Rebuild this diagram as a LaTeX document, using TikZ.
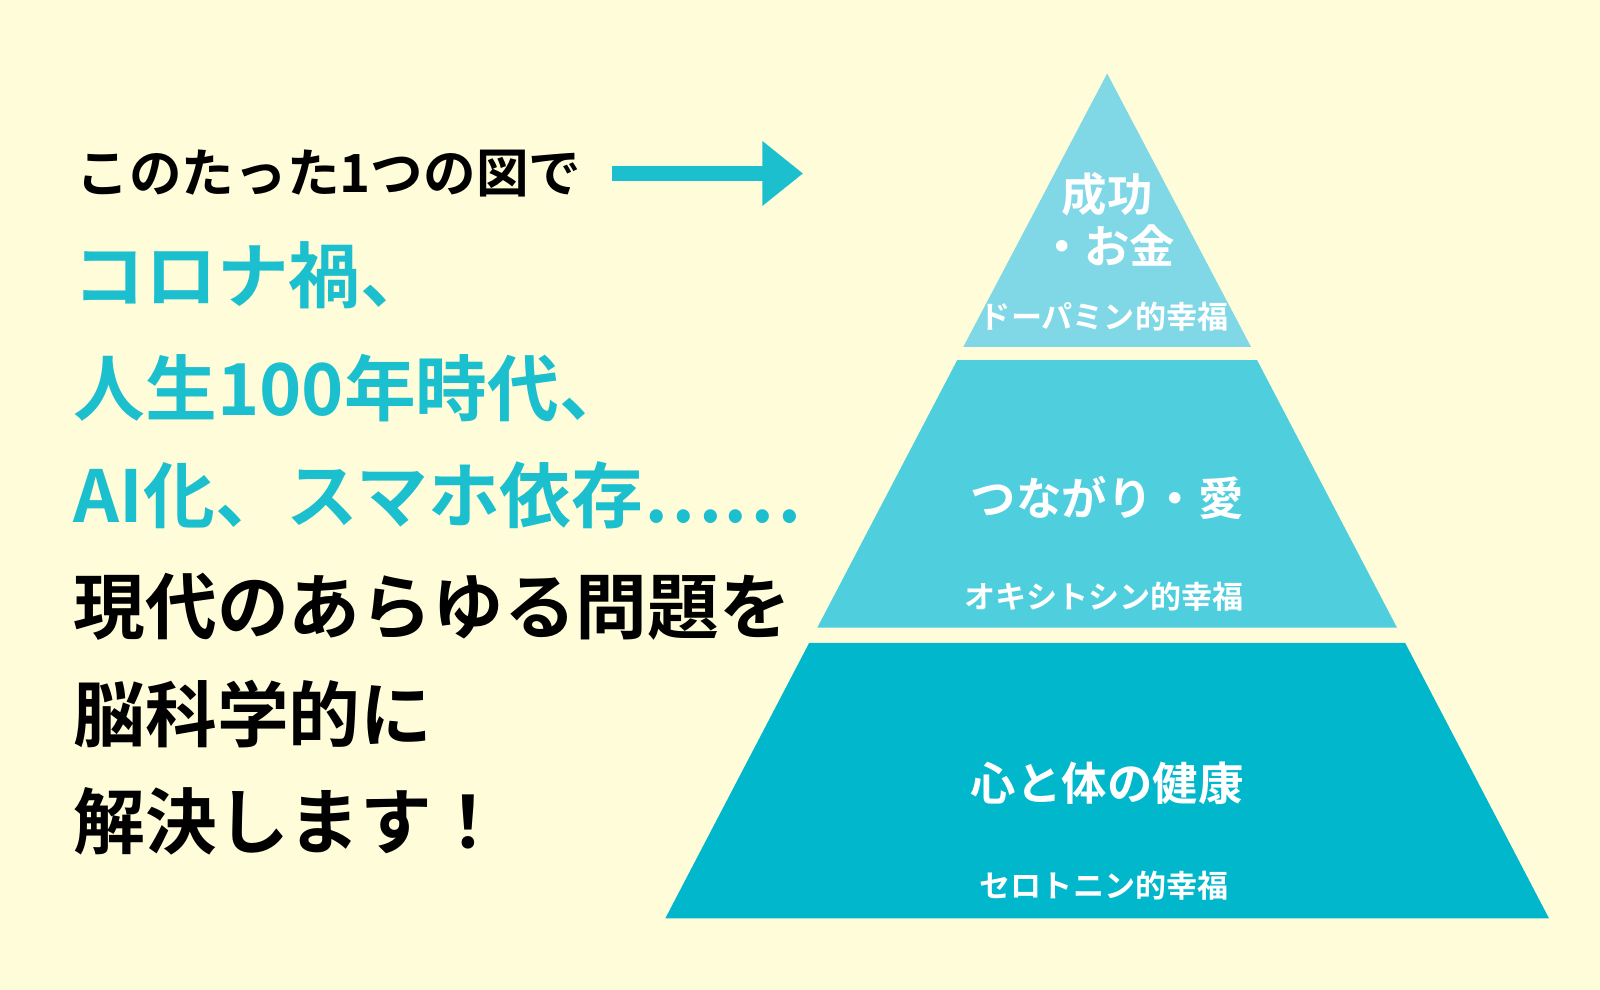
\documentclass[tikz,border=0pt]{standalone}
\usepackage{fontspec}
\setmainfont{Noto Sans CJK JP}[BoldFont={Noto Sans CJK JP Bold}]
\usetikzlibrary{arrows.meta}
\definecolor{bg}{HTML}{FFFDD9}
\definecolor{cy}{HTML}{1CBFCE}
\definecolor{t1}{HTML}{80D8E6}
\definecolor{t2}{HTML}{4FCEDE}
\definecolor{t3}{HTML}{00B7CB}
\newcommand{\fs}[1]{\fontsize{#1}{1.15\dimexpr#1\relax}\selectfont}
\begin{document}
\begin{tikzpicture}[x=0.03cm,y=-0.03cm,
  lt/.style={anchor=west,inner sep=0pt,font=\bfseries\fs{60pt}},
  pt/.style={text=white,font=\bfseries\fs{38pt},align=center,inner sep=0pt},
  st/.style={text=white,font=\bfseries\fs{26pt},inner sep=0pt}]
\fill[bg] (0,0) rectangle (1568,970);
\useasboundingbox (0,0) rectangle (1568,970);
% pyramid
\fill[t1] (1085,72) -- (1226,340) -- (944,340) -- cycle;
\fill[t2] (938,353) -- (1232,353) -- (1369,615) -- (801,615) -- cycle;
\fill[t3] (793,630) -- (1377,630) -- (1518,900) -- (652,900) -- cycle;
\node[pt] (a) at (1085,215) {成功\\・お金};
\node[st] (as) at (1082,310) {ドーパミン的幸福};
\node[pt] (b) at (1085,488) {つながり・愛};
\node[st] (bs) at (1082,585) {オキシトシン的幸福};
\node[pt] (c) at (1085,768) {心と体の健康};
\node[st] (cs) at (1082,868) {セロトニン的幸福};
% left text
\node[lt,font=\bfseries\fs{44pt}] (l0) at (75,170) {このたった1つの図で};
\coordinate (ar0) at (600,170);
\coordinate (ar1) at (787,170);
\draw[cy,line width=13pt,-{Triangle[length=34pt,width=52pt]}] (ar0) -- (ar1);
\node[lt,text=cy] (l1) at (72,270) {コロナ禍、};
\node[lt,text=cy] (l2) at (72,380) {人生100年時代、};
\node[lt,text=cy] (l3) at (72,485) {AI化、スマホ依存……};
\node[lt] (l4) at (72,595) {現代のあらゆる問題を};
\node[lt] (l5) at (72,700) {脳科学的に};
\node[lt] (l6) at (72,805) {解決します！};
\end{tikzpicture}
\end{document}
